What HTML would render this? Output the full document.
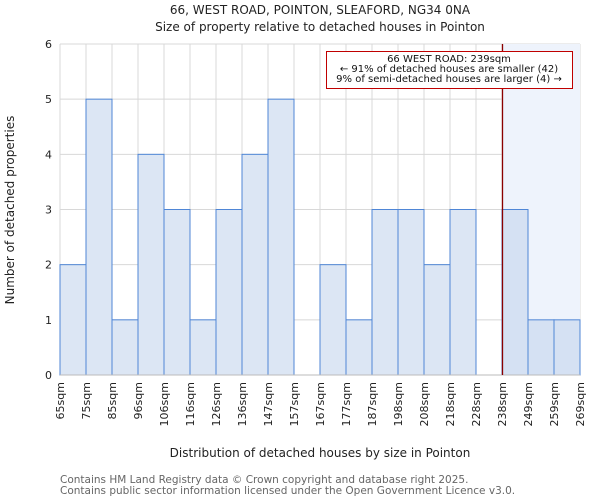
<!DOCTYPE html>
<html><head><meta charset="utf-8"><style>
body{margin:0;background:#fff;font-family:"DejaVu Sans","Liberation Sans",sans-serif}
svg text{font-family:"DejaVu Sans","Liberation Sans",sans-serif}
</style></head><body>
<svg id="chart" width="600" height="500" xmlns="http://www.w3.org/2000/svg">
<text x="320" y="14" font-size="12" text-anchor="middle" fill="#222">66, WEST ROAD, POINTON, SLEAFORD, NG34 0NA</text>
<text x="320" y="31" font-size="12" text-anchor="middle" fill="#222">Size of property relative to detached houses in Pointon</text>
<g id="grid"></g>
<rect x="502" y="44" width="78" height="331" fill="#eef3fc"/>
<g id="bars"></g>
<g id="axes"></g>
<line x1="502.5" y1="44" x2="502.5" y2="375" stroke="#8b0000" stroke-width="1.3"/>
<rect x="326.5" y="51.5" width="246" height="37" fill="#fff" stroke="#c00000" stroke-width="1"/>
<text x="449" y="62" font-size="10" text-anchor="middle" fill="#111">66 WEST ROAD: 239sqm</text>
<text x="449" y="72" font-size="10" text-anchor="middle" fill="#111">← 91% of detached houses are smaller (42)</text>
<text x="449" y="82" font-size="10" text-anchor="middle" fill="#111">9% of semi-detached houses are larger (4) →</text>
<text transform="translate(14,210) rotate(-90)" font-size="12" text-anchor="middle" fill="#222">Number of detached properties</text>
<text x="320" y="457" font-size="12" text-anchor="middle" fill="#222">Distribution of detached houses by size in Pointon</text>
<text x="60" y="483" font-size="10.5" fill="#666">Contains HM Land Registry data © Crown copyright and database right 2025.</text>
<text x="60" y="494" font-size="10.5" fill="#666">Contains public sector information licensed under the Open Government Licence v3.0.</text>
</svg>
<script>
const categories=["65sqm","75sqm","85sqm","96sqm","106sqm","116sqm","126sqm","136sqm","147sqm","157sqm","167sqm","177sqm","187sqm","198sqm","208sqm","218sqm","228sqm","238sqm","249sqm","259sqm","269sqm"];
const counts=[2,5,1,4,3,1,3,4,5,0,2,1,3,3,2,3,0,3,1,1];
const yTicks=[0,1,2,3,4,5,6];
const highlightFrom=17;
const X0=60,X1=580,Y0=375,Y1=44,YMAX=6;
const bw=(X1-X0)/counts.length;
const xs=i=>X0+i*bw;
const ys=v=>Y0-(v/YMAX)*(Y0-Y1);
const NS="http://www.w3.org/2000/svg";
function mk(t,a,p){const e=document.createElementNS(NS,t);for(const k in a)e.setAttribute(k,a[k]);p.appendChild(e);return e;}
const grid=document.getElementById('grid'),bars=document.getElementById('bars'),axes=document.getElementById('axes');
for(let i=0;i<=counts.length;i++){const l=mk('line',{x1:xs(i),x2:xs(i),y1:Y1,y2:Y0,stroke:'#d8d8d8','stroke-width':1},grid);

}
yTicks.forEach(t=>{const l=mk('line',{x1:X0,x2:X1,y1:ys(t),y2:ys(t),stroke:'#d8d8d8','stroke-width':1},grid);


const tx=mk('text',{x:X0-8,y:ys(t)+4,'font-size':11,'text-anchor':'end',fill:'#222'},axes);tx.textContent=t;

});
counts.forEach((v,i)=>{if(v<=0)return;const r=mk('rect',{x:xs(i),y:ys(v),width:bw,height:Y0-ys(v),fill:i>=highlightFrom?'#d5e1f3':'#dce6f4',stroke:'#4f86d6','stroke-width':1},bars);

});
const ax=mk('line',{x1:X0,x2:X1,y1:Y0,y2:Y0,stroke:'#bbb','stroke-width':1},axes);


categories.forEach((c,i)=>{const x=xs(i)+4;const t=mk('text',{transform:`translate(${x},382) rotate(-90)`,'font-size':11,'text-anchor':'end',fill:'#222'},axes);t.textContent=c;

});
</script>
</body></html>
